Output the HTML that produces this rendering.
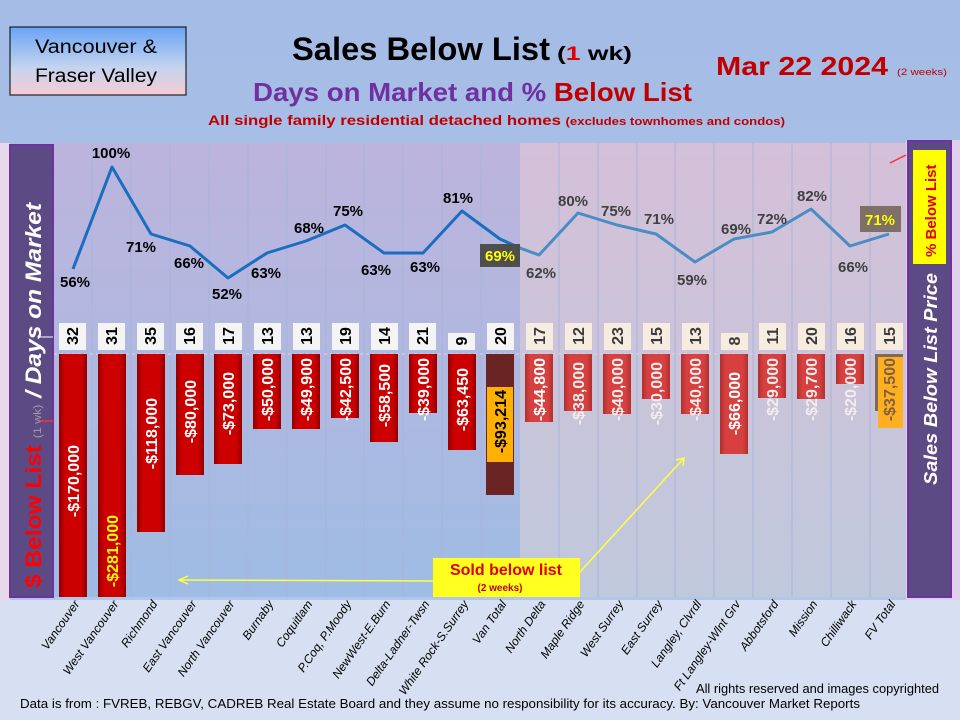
<!DOCTYPE html>
<html><head><meta charset="utf-8"><style>
html,body{margin:0;padding:0;width:960px;height:720px;overflow:hidden;background:#a9bfe6}
svg{display:block}
text{font-family:"Liberation Sans",sans-serif}
</style></head><body>
<svg width="960" height="720" viewBox="0 0 960 720" xmlns="http://www.w3.org/2000/svg">
<defs>
<linearGradient id="bg" x1="0" y1="0" x2="0" y2="1"><stop offset="0" stop-color="#a4bce6"/><stop offset="1" stop-color="#b4c8ea"/></linearGradient>
<linearGradient id="pl" x1="0" y1="0" x2="0" y2="1"><stop offset="0" stop-color="#bcb4dc"/><stop offset="0.5" stop-color="#b0b8e0"/><stop offset="1" stop-color="#9ebce4"/></linearGradient>
<linearGradient id="pr" x1="0" y1="0" x2="0" y2="1"><stop offset="0" stop-color="#d4c0d8"/><stop offset="1" stop-color="#c0c8dc"/></linearGradient>
<linearGradient id="hb" x1="0" y1="0" x2="0" y2="1"><stop offset="0" stop-color="#6aa4f4"/><stop offset="0.6" stop-color="#c4d4ee"/><stop offset="1" stop-color="#f6ccd4"/></linearGradient>
<linearGradient id="rb" x1="0" y1="0" x2="1" y2="0"><stop offset="0" stop-color="#900000"/><stop offset="0.2" stop-color="#cc0000"/><stop offset="0.8" stop-color="#cc0000"/><stop offset="1" stop-color="#900000"/></linearGradient>
<linearGradient id="rb2" x1="0" y1="0" x2="1" y2="0"><stop offset="0" stop-color="#b03030"/><stop offset="0.2" stop-color="#d84040"/><stop offset="0.8" stop-color="#d84040"/><stop offset="1" stop-color="#b03030"/></linearGradient>
</defs>
<rect width="960" height="720" fill="url(#bg)"/>
<rect x="0" y="600" width="960" height="120" fill="#d6e0f2"/>
<rect x="906" y="140" width="54" height="460" fill="#e0d0ec"/>
<rect x="0" y="143" width="10" height="457" fill="#e8d8ec"/>
<!-- header -->
<rect x="10" y="27" width="176" height="68" fill="url(#hb)" stroke="#000" stroke-width="1"/>
<text x="35" y="53" font-size="19" fill="#000" textLength="122" lengthAdjust="spacingAndGlyphs">Vancouver &amp;</text>
<text x="35" y="82" font-size="19" fill="#000" textLength="122" lengthAdjust="spacingAndGlyphs">Fraser Valley</text>
<text x="292" y="60" font-size="32" font-weight="bold" fill="#000" textLength="258" lengthAdjust="spacingAndGlyphs">Sales Below List</text>
<text x="557" y="60" font-size="19" font-weight="bold" fill="#000" textLength="75" lengthAdjust="spacingAndGlyphs">(<tspan fill="#e00000">1</tspan> wk)</text>
<text x="716" y="75" font-size="26" font-weight="bold" fill="#c00000" textLength="172" lengthAdjust="spacingAndGlyphs">Mar 22  2024</text>
<text x="897" y="75" font-size="9" fill="#c00000" textLength="50" lengthAdjust="spacingAndGlyphs">(2 weeks)</text>
<text x="253" y="101" font-size="26" font-weight="bold" fill="#7030a0" textLength="439" lengthAdjust="spacingAndGlyphs">Days on Market and % <tspan fill="#c00000">Below List</tspan></text>
<text x="208" y="125" font-size="14" font-weight="bold" fill="#c00000" textLength="577" lengthAdjust="spacingAndGlyphs">All single family residential detached homes <tspan font-size="11">(excludes townhomes and condos)</tspan></text>
<!-- plot bg -->
<rect x="54" y="143" width="466" height="454" fill="url(#pl)"/>
<rect x="520" y="143" width="386" height="454" fill="url(#pr)"/>
<g stroke="#a8b4d8" stroke-width="1">
<line x1="92" y1="143" x2="92" y2="597"/><line x1="131" y1="143" x2="131" y2="597"/><line x1="170" y1="143" x2="170" y2="597"/><line x1="209" y1="143" x2="209" y2="597"/><line x1="248" y1="143" x2="248" y2="597"/><line x1="287" y1="143" x2="287" y2="597"/><line x1="326" y1="143" x2="326" y2="597"/><line x1="364" y1="143" x2="364" y2="597"/><line x1="403" y1="143" x2="403" y2="597"/><line x1="442" y1="143" x2="442" y2="597"/><line x1="481" y1="143" x2="481" y2="597"/><line x1="559" y1="143" x2="559" y2="597"/><line x1="598" y1="143" x2="598" y2="597"/><line x1="637" y1="143" x2="637" y2="597"/><line x1="675" y1="143" x2="675" y2="597"/><line x1="714" y1="143" x2="714" y2="597"/><line x1="753" y1="143" x2="753" y2="597"/><line x1="792" y1="143" x2="792" y2="597"/><line x1="831" y1="143" x2="831" y2="597"/><line x1="870" y1="143" x2="870" y2="597"/>
</g>
<line x1="54" y1="354" x2="906" y2="354" stroke="#d8d8e8" stroke-dasharray="3 3"/>
<!-- bars -->
<g fill="url(#rb)">
<rect x="59" y="354" width="28" height="243"/><rect x="98" y="354" width="28" height="243"/><rect x="137" y="354" width="28" height="178"/><rect x="176" y="354" width="28" height="121"/><rect x="214" y="354" width="28" height="110"/><rect x="253" y="354" width="28" height="75"/><rect x="292" y="354" width="28" height="75"/><rect x="331" y="354" width="28" height="64"/><rect x="370" y="354" width="28" height="88"/><rect x="409" y="354" width="28" height="59"/><rect x="448" y="354" width="28" height="96"/>
</g>
<rect x="486" y="354" width="28" height="141" fill="#6a2424"/>
<g fill="url(#rb2)">
<rect x="525" y="354" width="28" height="68"/><rect x="564" y="354" width="28" height="57"/><rect x="603" y="354" width="28" height="60"/><rect x="642" y="354" width="28" height="45"/><rect x="681" y="354" width="28" height="60"/><rect x="720" y="354" width="28" height="100"/><rect x="758" y="354" width="28" height="44"/><rect x="797" y="354" width="28" height="45"/><rect x="836" y="354" width="28" height="30"/>
</g>
<rect x="875" y="354" width="28" height="57" fill="#806858"/>
<rect x="487" y="387" width="26" height="75" fill="#ffb000"/>
<rect x="878" y="357" width="25" height="71" fill="#ffb020"/>
<!-- bar labels -->
<g font-size="16" font-weight="bold" fill="#fff">
<text transform="translate(79,445) rotate(-90)" text-anchor="end">-$170,000</text>
<text transform="translate(118,515) rotate(-90)" text-anchor="end" fill="#ffff00">-$281,000</text>
<text transform="translate(157,398) rotate(-90)" text-anchor="end">-$118,000</text>
<text transform="translate(196,380) rotate(-90)" text-anchor="end">-$80,000</text>
<text transform="translate(234,372) rotate(-90)" text-anchor="end">-$73,000</text>
<text transform="translate(273,358) rotate(-90)" text-anchor="end">-$50,000</text>
<text transform="translate(312,358) rotate(-90)" text-anchor="end">-$49,900</text>
<text transform="translate(351,358) rotate(-90)" text-anchor="end">-$42,500</text>
<text transform="translate(390,364) rotate(-90)" text-anchor="end">-$58,500</text>
<text transform="translate(429,358) rotate(-90)" text-anchor="end">-$39,000</text>
<text transform="translate(468,368) rotate(-90)" text-anchor="end">-$63,450</text>
<text transform="translate(506,390) rotate(-90)" text-anchor="end" fill="#000">-$93,214</text>
<text transform="translate(545,358) rotate(-90)" text-anchor="end">-$44,800</text>
<text transform="translate(584,362) rotate(-90)" text-anchor="end" fill="#f4ecec">-$38,000</text>
<text transform="translate(623,358) rotate(-90)" text-anchor="end" fill="#f4ecec">-$40,000</text>
<text transform="translate(662,362) rotate(-90)" text-anchor="end" fill="#f4ecec">-$30,000</text>
<text transform="translate(701,358) rotate(-90)" text-anchor="end" fill="#f4ecec">-$40,000</text>
<text transform="translate(740,372) rotate(-90)" text-anchor="end">-$66,000</text>
<text transform="translate(778,358) rotate(-90)" text-anchor="end" fill="#f4ecec">-$29,000</text>
<text transform="translate(817,358) rotate(-90)" text-anchor="end" fill="#f4ecec">-$29,700</text>
<text transform="translate(856,358) rotate(-90)" text-anchor="end" fill="#f4ecec">-$20,000</text>
<text transform="translate(895,358) rotate(-90)" text-anchor="end" fill="#806040">-$37,500</text>
</g>
<!-- day boxes -->
<g fill="#f4f4f4">
<rect x="59" y="323" width="27" height="27"/><rect x="98" y="323" width="27" height="27"/><rect x="137" y="323" width="27" height="27"/><rect x="176" y="323" width="27" height="27"/><rect x="215" y="323" width="27" height="27"/><rect x="254" y="323" width="27" height="27"/><rect x="293" y="323" width="27" height="27"/><rect x="332" y="323" width="27" height="27"/><rect x="371" y="323" width="27" height="27"/><rect x="409" y="323" width="27" height="27"/><rect x="448" y="333" width="27" height="17"/><rect x="487" y="323" width="27" height="27"/>
</g>
<g fill="#f6ece0">
<rect x="526" y="323" width="27" height="27"/><rect x="565" y="323" width="27" height="27"/><rect x="604" y="323" width="27" height="27"/><rect x="643" y="323" width="27" height="27"/><rect x="682" y="323" width="27" height="27"/><rect x="721" y="333" width="27" height="17"/><rect x="759" y="323" width="27" height="27"/><rect x="798" y="323" width="27" height="27"/><rect x="837" y="323" width="27" height="27"/><rect x="876" y="323" width="27" height="27"/>
</g>
<g font-size="16" font-weight="bold" fill="#000" text-anchor="middle">
<text transform="translate(78,336) rotate(-90)">32</text><text transform="translate(117,336) rotate(-90)">31</text><text transform="translate(156,336) rotate(-90)">35</text><text transform="translate(195,336) rotate(-90)">16</text><text transform="translate(234,336) rotate(-90)">17</text><text transform="translate(273,336) rotate(-90)">13</text><text transform="translate(312,336) rotate(-90)">13</text><text transform="translate(351,336) rotate(-90)">19</text><text transform="translate(390,336) rotate(-90)">14</text><text transform="translate(428,336) rotate(-90)">21</text><text transform="translate(467,341) rotate(-90)">9</text><text transform="translate(506,336) rotate(-90)">20</text>
</g>
<g font-size="16" font-weight="bold" fill="#3a3a3a" text-anchor="middle">
<text transform="translate(545,336) rotate(-90)">17</text><text transform="translate(584,336) rotate(-90)">12</text><text transform="translate(623,336) rotate(-90)">23</text><text transform="translate(662,336) rotate(-90)">15</text><text transform="translate(701,336) rotate(-90)">13</text><text transform="translate(740,341) rotate(-90)">8</text><text transform="translate(778,336) rotate(-90)">11</text><text transform="translate(817,336) rotate(-90)">20</text><text transform="translate(856,336) rotate(-90)">16</text><text transform="translate(895,336) rotate(-90)">15</text>
</g>
<!-- line -->
<polyline fill="none" stroke="#1a6ec0" stroke-width="3" stroke-linejoin="round" points="73,269 112,167 151,234 190,246 228,278 267,253 306,241 345,225 384,253 423,253 462,211 500,239 520,248"/>
<polyline fill="none" stroke="#4a8cc4" stroke-width="3" stroke-linejoin="round" points="520,248 539,255 578,213 617,225 656,234 695,262 734,239 772,232 811,209 850,246 889,234"/>
<g font-size="15" font-weight="bold" fill="#000" text-anchor="middle">
<text x="75" y="287">56%</text><text x="111" y="158">100%</text><text x="141" y="252">71%</text><text x="189" y="268">66%</text><text x="227" y="299">52%</text><text x="266" y="278">63%</text><text x="309" y="233">68%</text><text x="348" y="216">75%</text><text x="376" y="275">63%</text><text x="425" y="272">63%</text><text x="458" y="203">81%</text>
</g>
<g font-size="15" font-weight="bold" fill="#404040" text-anchor="middle">
<text x="541" y="278">62%</text><text x="573" y="206">80%</text><text x="616" y="216">75%</text><text x="659" y="224">71%</text><text x="692" y="285">59%</text><text x="736" y="234">69%</text><text x="772" y="224">72%</text><text x="812" y="201">82%</text><text x="853" y="272">66%</text>
</g>
<rect x="480" y="244" width="40" height="23" fill="#4e4e4e"/>
<text x="500" y="261" font-size="15" font-weight="bold" fill="#ffff00" text-anchor="middle">69%</text>
<rect x="860" y="206" width="41" height="26" fill="#7e7068"/>
<text x="880" y="225" font-size="15" font-weight="bold" fill="#ffff00" text-anchor="middle">71%</text>
<!-- left panel -->
<rect x="10" y="145" width="43" height="452" fill="#5c4a84" stroke="#7030a0" stroke-width="2"/>
<text transform="translate(41,588) rotate(-90)" font-size="22" font-weight="bold" fill="#ff0000" textLength="385" lengthAdjust="spacingAndGlyphs">$ Below List <tspan font-size="11" fill="#a0a0a0" font-weight="normal">(1 wk)</tspan><tspan fill="#fff" font-style="italic"> / Days on Market</tspan></text>
<line x1="40" y1="337" x2="53" y2="337" stroke="#fff" stroke-width="1"/>
<line x1="40" y1="421" x2="53" y2="421" stroke="#ff3030" stroke-width="1.5"/>
<!-- right panel -->
<rect x="908" y="141" width="43" height="456" fill="#5c4a84" stroke="#7030a0" stroke-width="2"/>
<rect x="913" y="150" width="33" height="114" fill="#ffff00"/>
<text transform="translate(936,257) rotate(-90)" font-size="15" font-weight="bold" fill="#e00000">% Below List</text>
<text transform="translate(937,485) rotate(-90)" font-size="18" font-weight="bold" font-style="italic" fill="#fff" textLength="212" lengthAdjust="spacingAndGlyphs">Sales Below List Price</text>
<line x1="906" y1="155" x2="890" y2="163" stroke="#ff3030" stroke-width="1.5"/>
<!-- sold below list -->
<line x1="433" y1="581" x2="180" y2="580" stroke="#ffff40" stroke-width="1.5"/>
<polyline points="188,576 179,580 188,584" fill="none" stroke="#ffff40" stroke-width="1.5"/>
<line x1="580" y1="572" x2="684" y2="458" stroke="#ffff40" stroke-width="1.5"/>
<polyline points="676,460 684,458 683,466" fill="none" stroke="#ffff40" stroke-width="1.5"/>
<rect x="433" y="558" width="147" height="39" fill="#ffff20"/>
<text x="506" y="575" font-size="16" font-weight="bold" fill="#e00000" text-anchor="middle">Sold below list</text>
<text x="500" y="591" font-size="10" font-weight="bold" fill="#c00000" text-anchor="middle">(2 weeks)</text>
<!-- x labels -->
<g font-size="12" font-style="italic" fill="#000" text-anchor="end">
<text transform="translate(80,604) rotate(-55)">Vancouver</text>
<text transform="translate(119,604) rotate(-55)">West Vancouver</text>
<text transform="translate(158,604) rotate(-55)">Richmond</text>
<text transform="translate(197,604) rotate(-55)">East Vancouver</text>
<text transform="translate(235,604) rotate(-55)">North Vancouver</text>
<text transform="translate(274,604) rotate(-55)">Burnaby</text>
<text transform="translate(313,604) rotate(-55)">Coquitlam</text>
<text transform="translate(352,604) rotate(-55)">P.Coq, P.Moody</text>
<text transform="translate(391,604) rotate(-55)">NewWest-E.Burn</text>
<text transform="translate(430,604) rotate(-55)">Delta-Ladner-Twsn</text>
<text transform="translate(469,604) rotate(-55)">White Rock-S.Surrey</text>
<text transform="translate(507,604) rotate(-55)">Van Total</text>
<text transform="translate(546,604) rotate(-55)">North Delta</text>
<text transform="translate(585,604) rotate(-55)">Maple Ridge</text>
<text transform="translate(624,604) rotate(-55)">West Surrey</text>
<text transform="translate(663,604) rotate(-55)">East Surrey</text>
<text transform="translate(702,604) rotate(-55)">Langley, Clvrdl</text>
<text transform="translate(741,604) rotate(-55)">Ft Langley-Wlnt Grv</text>
<text transform="translate(779,604) rotate(-55)">Abbotsford</text>
<text transform="translate(818,604) rotate(-55)">Mission</text>
<text transform="translate(857,604) rotate(-55)">Chilliwack</text>
<text transform="translate(896,604) rotate(-55)">FV Total</text>
</g>
<text x="696" y="693" font-size="13" fill="#000" textLength="243" lengthAdjust="spacingAndGlyphs">All rights reserved and  images copyrighted</text>
<text x="20" y="708" font-size="13" fill="#000" textLength="840" lengthAdjust="spacingAndGlyphs">Data is from : FVREB, REBGV, CADREB Real Estate Board and they assume no responsibility for its accuracy. By: Vancouver  Market Reports</text>
</svg>
</body></html>
